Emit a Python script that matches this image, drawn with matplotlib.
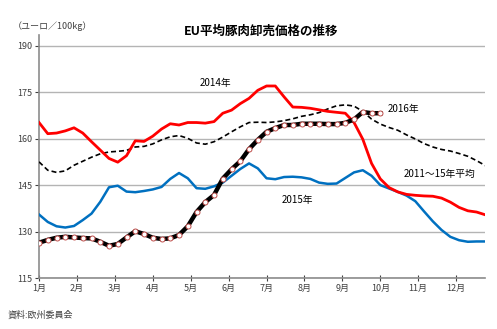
import numpy as np
import matplotlib
matplotlib.use("Agg")
import matplotlib.pyplot as plt

plt.rcParams["font.family"] = ["Noto Sans CJK JP", "DejaVu Sans"]

# # # # # # # # # # # # # # # # # # # # # # # # # # # # # # # # # # # # # # #
# DATA (weekly, euro / 100kg)
# # # # # # # # # # # # # # # # # # # # # # # # # # # # # # # # # # # # # # #

MONTH_LABELS = ["1月", "2月", "3月", "4月", "5月", "6月",
                "7月", "8月", "9月", "10月", "11月", "12月"]

price_2014 = [165.2, 161.6, 161.8, 162.5, 163.5, 161.8, 159.0, 156.3, 153.6, 152.4,
              154.5, 159.3, 159.1, 160.8, 163.1, 164.8, 164.4, 165.2, 165.2, 165.0,
              165.5, 168.2, 169.2, 171.3, 173.0, 175.6, 177.0, 177.0, 173.5, 170.2,
              170.1, 169.8, 169.3, 168.8, 168.5, 168.2, 165.2, 159.8, 152.0, 147.0,
              144.2, 142.8, 142.0, 141.7, 141.5, 141.4, 140.8, 139.5, 137.8, 136.7,
              136.3, 135.4]

price_2015 = [135.5, 133.1, 131.7, 131.3, 131.8, 133.7, 135.8, 139.6, 144.3, 144.8,
              142.9, 142.7, 143.1, 143.6, 144.4, 147.0, 148.9, 147.2, 144.0, 143.8,
              144.6, 145.8, 148.0, 150.2, 152.0, 150.4, 147.2, 146.9, 147.6, 147.7,
              147.5, 147.0, 145.8, 145.4, 145.5, 147.3, 149.1, 149.8, 148.0, 145.0,
              143.9, 142.8, 141.6, 139.8, 136.5, 133.3, 130.5, 128.3, 127.2, 126.7,
              126.8, 126.8]

price_avg = [152.5, 149.8, 149.1, 149.6, 151.4, 152.7, 154.0, 155.1, 155.7, 155.9,
             156.2, 157.3, 157.5, 158.3, 159.6, 160.6, 161.0, 160.1, 158.6, 158.2,
             159.0, 160.5, 162.2, 163.8, 165.2, 165.3, 165.2, 165.4, 165.8, 166.4,
             167.2, 167.7, 168.4, 169.6, 170.6, 170.9, 170.5, 168.8, 166.3, 164.7,
             163.6, 162.7, 161.2, 159.9, 158.4, 157.3, 156.5, 156.0, 155.2, 154.3,
             152.9, 151.3]

price_2016 = [126.4, 127.3, 128.0, 128.3, 128.1, 127.9, 127.8, 126.7, 125.4, 126.0,
              128.1, 130.1, 129.2, 128.0, 127.6, 127.8, 128.9, 131.7, 136.3, 139.5,
              141.8, 147.1, 150.1, 152.7, 156.6, 159.6, 162.2, 163.4, 164.4, 164.4,
              164.8, 164.8, 164.8, 164.7, 164.7, 165.1, 166.2, 168.6, 168.2, 168.2]

# # # # # # # # # # # # # # # # # # # # # # # # # # # # # # # # # # # # # # #
# PLOT
# # # # # # # # # # # # # # # # # # # # # # # # # # # # # # # # # # # # # # #

weeks = np.arange(len(price_2014))
weeks_2016 = np.arange(len(price_2016))
month_ticks = np.arange(12) * 52 / 12

fig = plt.figure(figsize=(4.97, 3.29), dpi=100)
ax = fig.add_axes([0.0785, 0.155, 0.898, 0.739])

ax.plot(weeks, price_avg, color="black", lw=1.2, dashes=(3, 1.8), zorder=3)
ax.plot(weeks, price_2015, color="#0070C0", lw=1.8, zorder=3)
ax.plot(weeks, price_2014, color="#FF0000", lw=2.0, zorder=3)
ax.plot(weeks_2016, price_2016, color="black", lw=3.2, zorder=4,
        marker="o", markersize=3.6, markerfacecolor="white",
        markeredgecolor="#c0504d", markeredgewidth=0.7)

ax.set_xlim(0, 51)
ax.set_ylim(115, 193.5)
ax.set_yticks([115, 130, 145, 160, 175, 190])
ax.set_xticks(month_ticks)
ax.set_xticklabels(MONTH_LABELS)
ax.tick_params(axis="both", labelsize=6.5, colors="#404040", length=3, width=0.8,
               pad=2)
ax.tick_params(axis="x", direction="inout", length=4)
ax.grid(axis="y", color="#b4b4b4", lw=1.0)
ax.set_axisbelow(True)
for side in ["top", "right"]:
    ax.spines[side].set_visible(False)
for side in ["left", "bottom"]:
    ax.spines[side].set_color("#8c8c8c")
    ax.spines[side].set_linewidth(1.2)

# series labels
ax.text(20.2, 178.0, "2014年", fontsize=7, ha="center", va="center")
ax.text(41.7, 169.6, "2016年", fontsize=7, ha="center", va="center")
ax.text(45.8, 148.6, "2011～15年平均", fontsize=7, ha="center", va="center")
ax.text(29.5, 140.2, "2015年", fontsize=7, ha="center", va="center")

fig.text(261 / 497, 1 - 31 / 329, "EU平均豚肉卸売価格の推移", fontsize=9,
         fontweight="bold", ha="center", va="center")
fig.text(13 / 497, 1 - 26 / 329, "（ユーロ／100kg）", fontsize=6.5,
         ha="left", va="center", color="#404040")
fig.text(8 / 497, 1 - 315 / 329, "資料:欧州委員会", fontsize=6.5,
         ha="left", va="center", color="#404040")

fig.savefig("out.png", dpi=100)
